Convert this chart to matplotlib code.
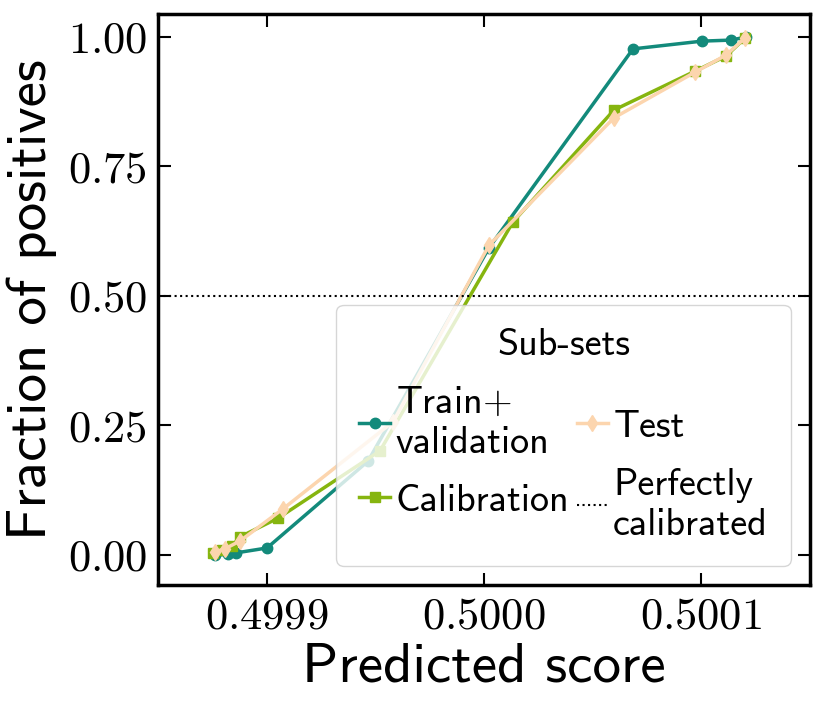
import matplotlib
matplotlib.use("Agg")
import matplotlib.pyplot as plt
from matplotlib.ticker import FixedLocator, FuncFormatter

plt.rcParams["mathtext.fontset"] = "cm"
plt.rcParams["font.family"] = ["cmss10", "DejaVu Sans"]
plt.rcParams["axes.unicode_minus"] = False

# calibration curves
train_x = [0.49987604, 0.49988203, 0.49988571, 0.49990000, 0.49994654,
           0.50000230, 0.50006866, 0.50010046, 0.50011382, 0.50012074]
train_y = [0.000, 0.001, 0.004, 0.0135, 0.181, 0.593, 0.977, 0.992, 0.994, 1.000]

calib_x = [0.49987512, 0.49987926, 0.49988387, 0.49988756, 0.49990507, 0.49995207,
           0.50001336, 0.50005991, 0.50009724, 0.50011152, 0.50012028]
calib_y = [0.004, 0.010, 0.017, 0.035, 0.071, 0.201, 0.643, 0.859, 0.934, 0.963, 0.998]

test_x = [0.49987604, 0.49988065, 0.49988756, 0.49990737, 0.49995806,
          0.50000230, 0.50005991, 0.50009724, 0.50011152, 0.50012028]
test_y = [0.006, 0.012, 0.027, 0.089, 0.257, 0.598, 0.844, 0.932, 0.965, 0.998]

xticks = [0.4999, 0.5000, 0.5001]
yticks = [0.00, 0.25, 0.50, 0.75, 1.00]

c_train = "#138a7b"
c_calib = "#86b50f"
c_test = "#fcd5ae"

fig = plt.figure(figsize=(8.22, 7.03), dpi=100)
ax = fig.add_axes([0.1922, 0.1679, 0.7932, 0.8122])

ax.plot(train_x, train_y, color=c_train, marker="o", lw=2.5, ms=7.5, label="Train$+$\nvalidation")
ax.plot(calib_x, calib_y, color=c_calib, marker="s", lw=2.5, ms=7.5, label="Calibration")
ax.plot(test_x, test_y, color=c_test, marker="d", lw=2.5, ms=8.5, label="Test")
ax.axhline(0.5, color="black", ls=":", lw=1.5, label="Perfectly\ncalibrated")

ax.set_xlim(0.49984977, 0.50015023)
ax.set_ylim(-0.0579, 1.0444)
ax.xaxis.set_major_locator(FixedLocator(xticks))
ax.yaxis.set_major_locator(FixedLocator(yticks))
ax.xaxis.set_major_formatter(FuncFormatter(lambda v, p: "$%.4f$" % v))
ax.yaxis.set_major_formatter(FuncFormatter(lambda v, p: "$%.2f$" % v))
ax.tick_params(which="major", direction="in", top=True, right=True,
               length=9, width=1.5, labelsize=32, pad=8)
ax.tick_params(which="minor", bottom=False, left=False)
for s in ax.spines.values():
    s.set_linewidth(2.5)

ax.set_xlabel("Predicted score", fontsize=41, labelpad=4)
ax.set_ylabel("Fraction of positives", fontsize=41, labelpad=8)

leg = ax.legend(ncol=2, title="Sub-sets", loc="lower right", fontsize=27.5,
                title_fontsize=27.5, handlelength=0.8, handletextpad=0.15,
                columnspacing=0.2, labelspacing=0.6, borderpad=0.6)

fig.savefig("out.png", dpi=100)
